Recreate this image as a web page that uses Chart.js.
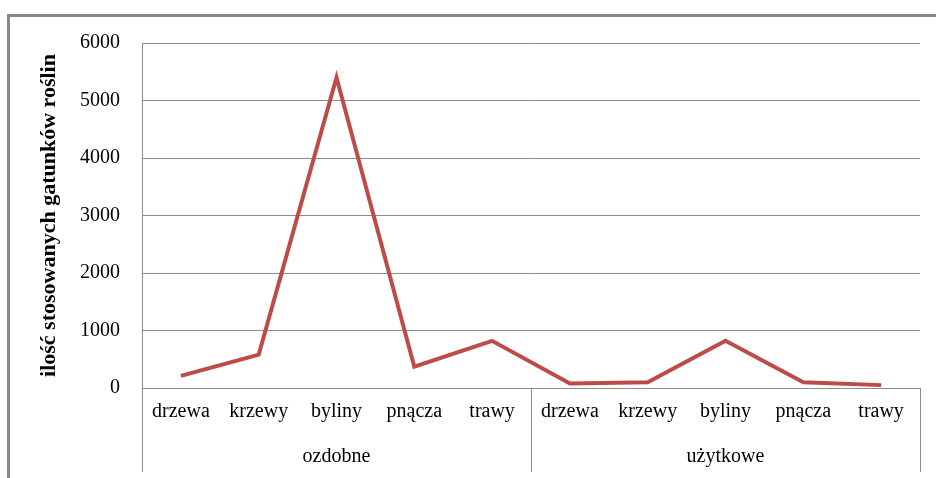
<!DOCTYPE html>
<html>
<head>
<meta charset="utf-8">
<script src="https://cdn.jsdelivr.net/npm/chart.js@4/dist/chart.umd.min.js"></script>
<style>
  html, body { margin: 0; padding: 0; background: #fff; }
  #wrap { width: 936px; height: 478px; position: relative; }
</style>
</head>
<body>
<div id="wrap"><canvas id="c" width="936" height="478"></canvas></div>
<script>
const categories = ['drzewa', 'krzewy', 'byliny', 'pnącza', 'trawy',
                    'drzewa', 'krzewy', 'byliny', 'pnącza', 'trawy'];
const groups = ['ozdobne', 'użytkowe'];
const groupSize = 5;
const values = [210, 580, 5400, 370, 820, 80, 100, 820, 100, 50];
const yTicks = [0, 1000, 2000, 3000, 4000, 5000, 6000];

const FONT = "'Liberation Serif', 'DejaVu Serif', serif";
const GRID = '#8c8c8c';

// frame, group labels and separators under the category axis
const groupAxis = {
  id: 'groupAxis',
  beforeDraw(chart) {
    const ctx = chart.ctx;
    ctx.save();
    ctx.strokeStyle = '#888';
    ctx.lineWidth = 3;
    ctx.strokeRect(8.5, 15.5, 940, 480);
    ctx.restore();
  },
  afterDraw(chart) {
    const ctx = chart.ctx;
    const area = chart.chartArea;
    const step = (area.right - area.left) / categories.length;
    ctx.save();
    ctx.strokeStyle = GRID;
    ctx.lineWidth = 1;
    for (let g = 0; g <= groups.length; g++) {
      const px = Math.round(area.left + g * groupSize * step) + 0.5;
      ctx.beginPath();
      ctx.moveTo(px, area.bottom);
      ctx.lineTo(px, 472);
      ctx.stroke();
    }
    ctx.fillStyle = '#000';
    ctx.font = '20px ' + FONT;
    ctx.textAlign = 'center';
    ctx.textBaseline = 'middle';
    groups.forEach((name, g) => {
      const cx = area.left + (g + 0.5) * groupSize * step;
      ctx.fillText(name, cx, 457);
    });
    ctx.restore();
  }
};

new Chart(document.getElementById('c'), {
  type: 'line',
  data: {
    labels: categories,
    datasets: [{
      data: values,
      borderColor: '#be4b48',
      borderWidth: 4,
      pointRadius: 0,
      tension: 0,
      fill: false
    }]
  },
  options: {
    responsive: false,
    animation: false,
    layout: { padding: { left: 0, right: 16, top: 43, bottom: 0 } },
    plugins: { legend: { display: false }, tooltip: { enabled: false } },
    scales: {
      x: {
        offset: true,
        afterFit(s) { s.height = 90; },
        grid: { display: false, drawTicks: false },
        border: { display: true, color: GRID, width: 1 },
        ticks: { color: '#000', font: { family: FONT, size: 20 }, padding: 12, maxRotation: 0, autoSkip: false }
      },
      y: {
        min: 0,
        max: 6000,
        afterFit(s) { s.width = 142; },
        afterBuildTicks(s) { s.ticks = yTicks.map(v => ({ value: v })); },
        grid: { color: GRID, drawTicks: false },
        border: { display: true, color: GRID, width: 1 },
        ticks: { color: '#000', font: { family: FONT, size: 20 }, padding: 22, callback: v => String(v) },
        title: {
          display: true,
          text: 'ilość stosowanych gatunków roślin',
          color: '#000',
          font: { family: FONT, size: 22, weight: 'bold' },
          padding: { top: 36, bottom: 0 }
        }
      }
    }
  },
  plugins: [groupAxis]
});
</script>
</body>
</html>
